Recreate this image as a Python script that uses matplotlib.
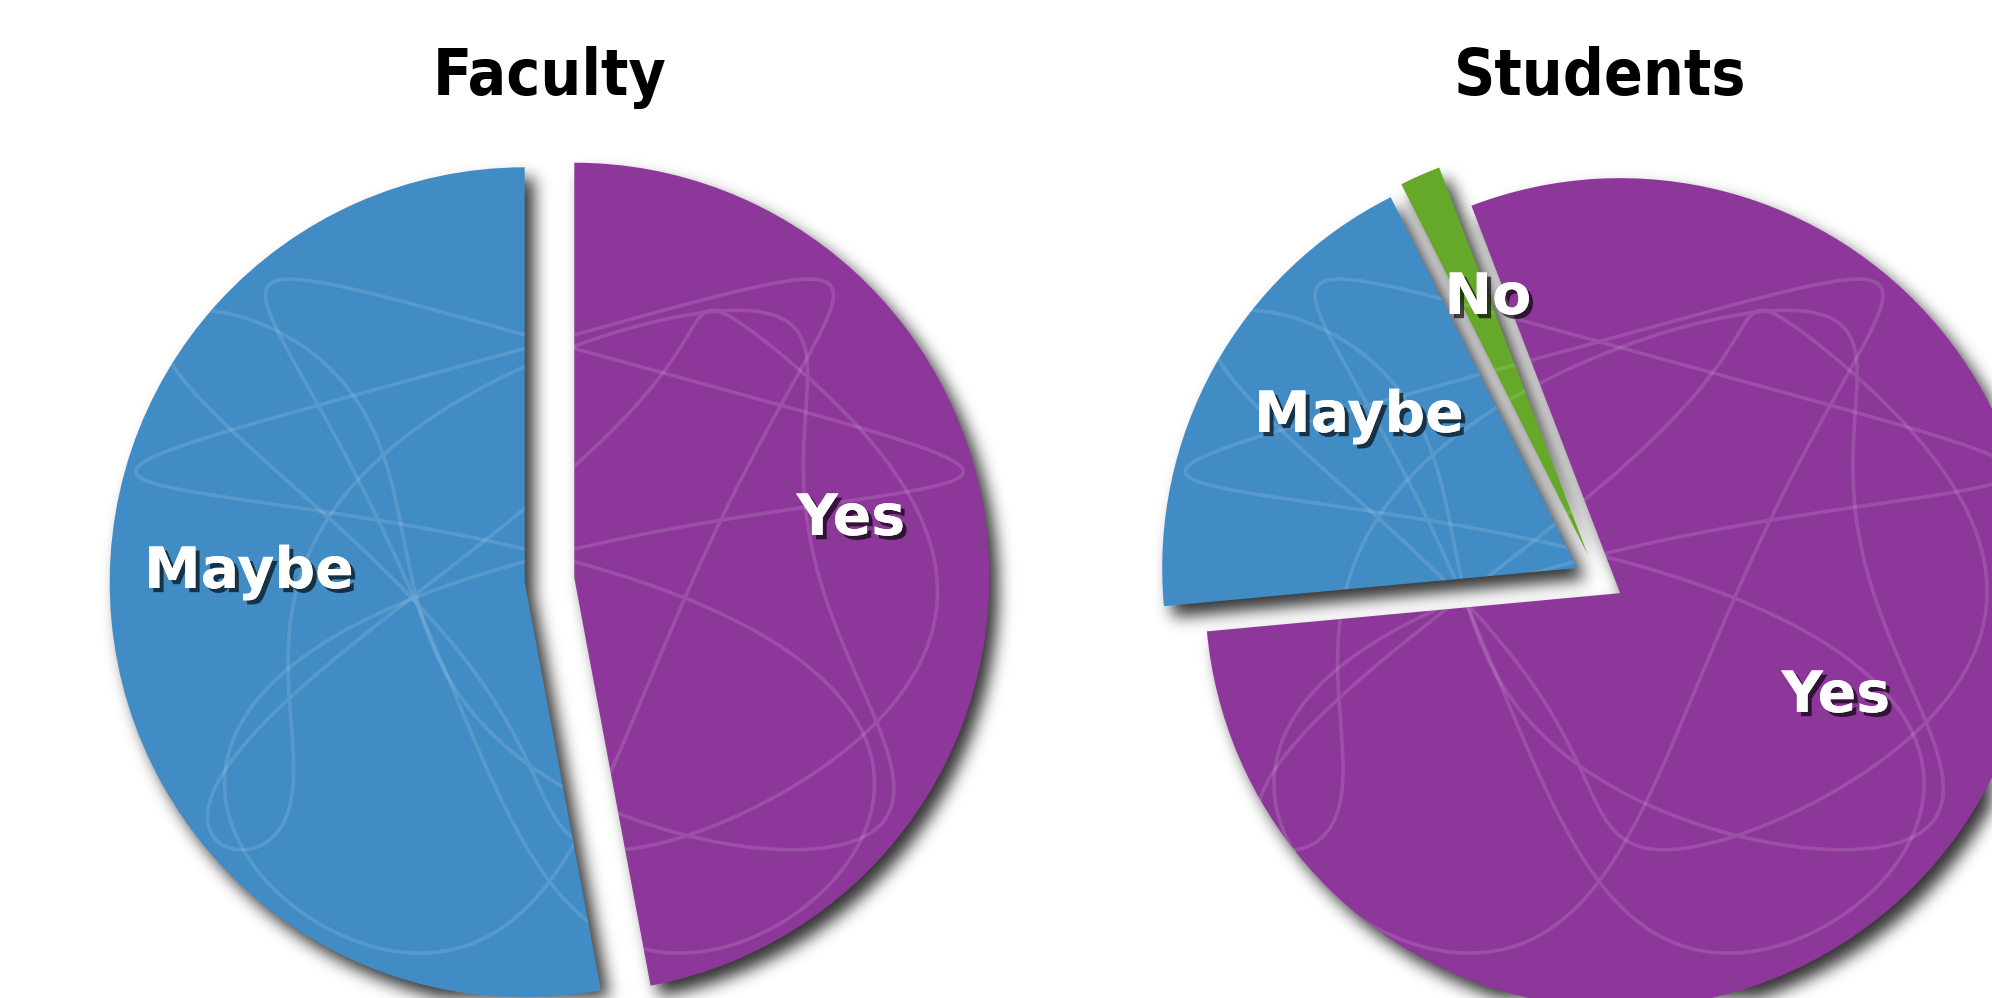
import numpy as np
import matplotlib
matplotlib.use("Agg")
import matplotlib.pyplot as plt
import matplotlib.patheffects as pe

# ---- data ----
faculty_labels = ["Yes", "Maybe"]
faculty_values = [8, 9]
faculty_colors = ["#8E379B", "#428CC6"]

student_labels = ["Yes", "Maybe", "No"]
student_values = [50, 12, 1]
student_colors = ["#8E379B", "#428CC6", "#65A82A"]

titles = ["Faculty", "Students"]

W, H = 1992, 998
fig = plt.figure(figsize=(W / 100, H / 100), dpi=100)
ax = fig.add_axes([0, 0, 1, 1])

R = 415
fac_center = (549.5, 418)
stu_center = (1599, 418)

fac_wedges, _ = ax.pie(faculty_values, colors=faculty_colors, startangle=90,
                       counterclock=False, radius=R, center=fac_center,
                       explode=[0.06 * R, 0.06 * R], frame=True,
                       wedgeprops=dict(linewidth=0, zorder=3))
stu_wedges, _ = ax.pie(student_values, colors=student_colors, startangle=111,
                       counterclock=False, radius=R, center=stu_center,
                       explode=[0.06 * R, 0.06 * R, 0.066 * R], frame=True,
                       wedgeprops=dict(linewidth=0, zorder=3))

ax.set_xlim(0, W)
ax.set_ylim(0, H)
ax.set_aspect("equal")
ax.axis("off")

# ---- faint scribble texture clipped to the wedges ----
t = np.linspace(0, 2 * np.pi, 1200)
scribbles = [
    (0.75 * np.sin(3 * t + 0.5) + 0.25 * np.sin(5 * t),
     0.70 * np.sin(2 * t) + 0.25 * np.cos(4 * t + 1.0)),
    (0.80 * np.cos(2 * t + 1.2) + 0.15 * np.sin(7 * t + 0.3),
     0.65 * np.sin(3 * t + 2.0)),
]
for centre, wedges in ((fac_center, fac_wedges), (stu_center, stu_wedges)):
    for w in wedges:
        for sx, sy in scribbles:
            ln, = ax.plot(centre[0] + R * sx, centre[1] + R * sy, color="white",
                          alpha=0.12, lw=2.6, zorder=4, solid_capstyle="round")
            ln.set_clip_path(w)

# ---- drop shadow (blurred, offset) ----
xs = np.arange(W) + 0.5
ys = H - (np.arange(H) + 0.5)
XX, YY = np.meshgrid(xs, ys)
pts = np.column_stack([XX.ravel(), YY.ravel()])
dx, dy = 9, -11
mask = np.zeros(W * H, dtype=float)
for w in list(fac_wedges) + list(stu_wedges):
    m = w.get_path().contains_points(pts - np.array([dx, dy]))
    mask = np.maximum(mask, m.astype(float))
mask = mask.reshape(H, W)

sig = 8.0
kx = np.arange(-int(3 * sig), int(3 * sig) + 1)
k = np.exp(-kx ** 2 / (2 * sig ** 2))
k /= k.sum()
mask = np.apply_along_axis(lambda r: np.convolve(r, k, mode="same"), 1, mask)
mask = np.apply_along_axis(lambda c: np.convolve(c, k, mode="same"), 0, mask)
rgba = np.zeros((H, W, 4))
rgba[..., 3] = mask * 0.8
ax.imshow(rgba, extent=[0, W, 0, H], origin="upper", zorder=2,
          interpolation="bilinear")
ax.set_xlim(0, W)
ax.set_ylim(0, H)

# ---- titles ----
for x, txt in ((550, titles[0]), (1600, titles[1])):
    ax.text(x, 903, txt, ha="center", va="baseline", fontsize=46,
            fontweight="bold", family="DejaVu Sans", fontstretch="condensed",
            color="black", zorder=5)

# ---- labels ----
shadow = [pe.withSimplePatchShadow(offset=(3, -3), shadow_rgbFace="black",
                                   alpha=0.65), pe.Normal()]
label_pos = {
    ("Faculty", "Maybe"): (249, 410),
    ("Faculty", "Yes"): (851, 463),
    ("Students", "Maybe"): (1359, 566),
    ("Students", "No"): (1488, 684),
    ("Students", "Yes"): (1836, 286),
}
for (grp, lab), (x, y) in label_pos.items():
    txt = ax.text(x, y, lab, ha="center", va="baseline", fontsize=41,
                  fontweight="bold", family="DejaVu Sans", color="white",
                  zorder=6)
    txt.set_path_effects(shadow)

fig.savefig("out.png", dpi=100)
